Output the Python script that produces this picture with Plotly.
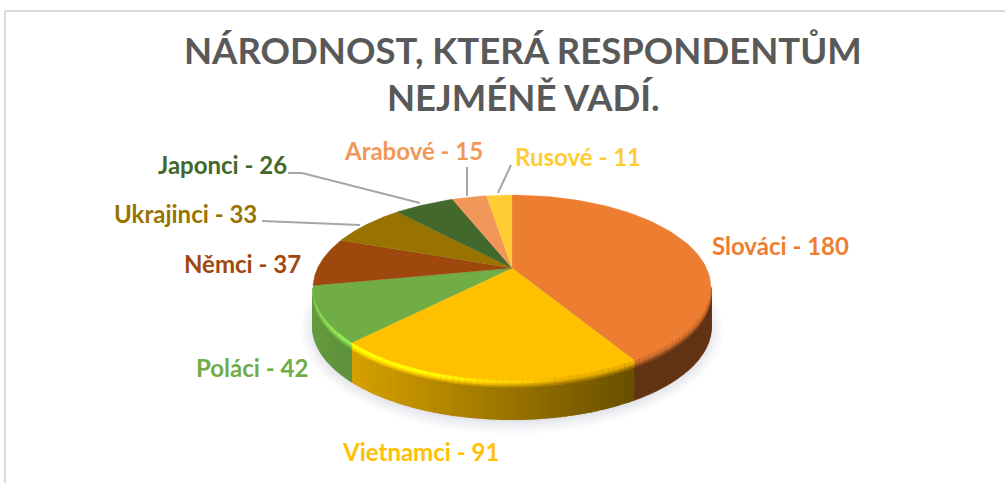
import numpy as np
import plotly.graph_objects as go

# --- data ---
categories = ["Slováci", "Vietnamci", "Poláci", "Němci", "Ukrajinci", "Japonci", "Arabové", "Rusové"]
values = [180, 91, 42, 37, 33, 26, 15, 11]
title_lines = ["NÁRODNOST, KTERÁ RESPONDENTŮM", "NEJMÉNĚ VADÍ."]

# --- styles ---
palette = ["#ED7D31", "#FFC000", "#70AD47", "#9E480E", "#997300", "#43682B", "#F1975A", "#FFCD33"]
label_xy = [(780, 245), (420, 451), (252, 367), (242, 263), (185, 213), (222, 164), (413, 150), (578, 156)]
leaders = [[(288, 173), (302, 173), (420, 203)], [(262, 221), (360, 225)],
           [(467, 167), (467, 196)], [(511, 165), (498, 193)]]
FONT = "Lato"
CX, CY = 512, 268         # apex of the pie on screen
A, B, K = 194.5, 88.4, 0.211  # perspective projection of the disc
DEPTH = 39


def project(theta):
    s, c = np.sin(theta), np.cos(theta)
    d = 1 + K * c
    return CX + A * s / d, CY - B * c / d


def rgb(hexcol):
    return np.array([int(hexcol[i:i + 2], 16) for i in (1, 3, 5)], float)


def css(c):
    c = np.clip(c, 0, 255)
    return "rgb(%d,%d,%d)" % tuple(c)


def poly(fig, xs, ys, color, lw=0.8):
    fig.add_trace(go.Scatter(x=xs, y=ys, mode="lines", fill="toself", fillcolor=color,
                             line=dict(color=color, width=lw), hoverinfo="skip", showlegend=False))


fig = go.Figure()

# soft shadow below the disc
ts = np.linspace(0, 2 * np.pi, 181)
ex, ey = project(ts)
for grow, alpha in [(12, .025), (9, .03), (6, .035), (3, .04), (0, .05)]:
    sx = 512 + (ex - 512) * (1 + grow / 199)
    sy = 287.5 + (ey - 287.5) * (1 + grow / 93) + DEPTH + 3
    poly(fig, sx, sy, "rgba(90,100,130,%.3f)" % alpha, lw=0)

fractions = np.cumsum([0] + values) / sum(values) * 2 * np.pi

# side wall: only the part of the rim that faces the viewer, then a soft bevel
walls, bevels = [], []
for i, col in enumerate(palette):
    base = rgb(col)
    a0, a1 = fractions[i], fractions[i + 1]
    n = max(2, int(np.degrees(a1 - a0) / 1.5))
    edges = np.linspace(a0, a1, n + 1)
    for t0, t1 in zip(edges[:-1], edges[1:]):
        if np.cos((t0 + t1) / 2) > -K:
            continue
        tt = np.linspace(t0, t1, 3)
        x, y = project(tt)
        mx = x.mean()
        f = np.interp(mx, [313, 630], [0.90, 0.42])
        side = base * f
        h = np.interp(mx, [313, 360, 450, 570], [0.20, 0.35, 0.25, 0.0])
        glow = base * (1 + h) + np.array([20, 40, 0]) * (h / 0.4)
        walls.append((np.r_[x, x[::-1]], np.r_[y, y[::-1] + DEPTH], css(side)))
        for height, w in [(7, 0.25), (5, 0.55), (3, 0.85)]:
            mix = glow * w + side * (1 - w)
            bevels.append((np.r_[x, x[::-1]], np.r_[y, y[::-1] + height], css(mix)))
for x, y, c in walls:
    poly(fig, x, y, c, lw=2)
for x, y, c in bevels:
    poly(fig, x, y, c, lw=1)

# top surface
for i, col in enumerate(palette):
    tt = np.linspace(fractions[i], fractions[i + 1], 80)
    x, y = project(tt)
    poly(fig, np.r_[CX, x, CX], np.r_[CY, y, CY], col, lw=0.3)

# leader lines
for pts in leaders:
    fig.add_trace(go.Scatter(x=[p[0] for p in pts], y=[p[1] for p in pts], mode="lines",
                             line=dict(color="#A6A6A6", width=2), hoverinfo="skip", showlegend=False))

# labels
for (cat, val, col, (lx, ly)) in zip(categories, values, palette, label_xy):
    fig.add_annotation(x=lx, y=ly, text=f"<b>{cat} - {val}</b>", showarrow=False,
                       font=dict(family=FONT, size=24, color=col), xanchor="center", yanchor="middle")

# title
for line, ty in zip(title_lines, [50, 97]):
    fig.add_annotation(x=523, y=ty, text=f"<b>{line}</b>", showarrow=False,
                       font=dict(family=FONT, size=36.5, color="#595959"), xanchor="center", yanchor="middle")

# frame
line = dict(color="#DADADA", width=2)
fig.add_shape(type="line", x0=5, x1=1005, y0=11, y1=11, line=line)
fig.add_shape(type="line", x0=5, x1=5, y0=11, y1=483, line=line)

fig.update_layout(width=1005, height=483, margin=dict(l=0, r=0, t=0, b=0),
                  paper_bgcolor="white", plot_bgcolor="white", showlegend=False,
                  xaxis=dict(range=[0, 1005], visible=False, fixedrange=True),
                  yaxis=dict(range=[483, 0], visible=False, fixedrange=True))
fig.write_html("out.html", config=dict(displayModeBar=False),
               post_script="document.body.style.margin='0';document.body.style.overflow='hidden';")
